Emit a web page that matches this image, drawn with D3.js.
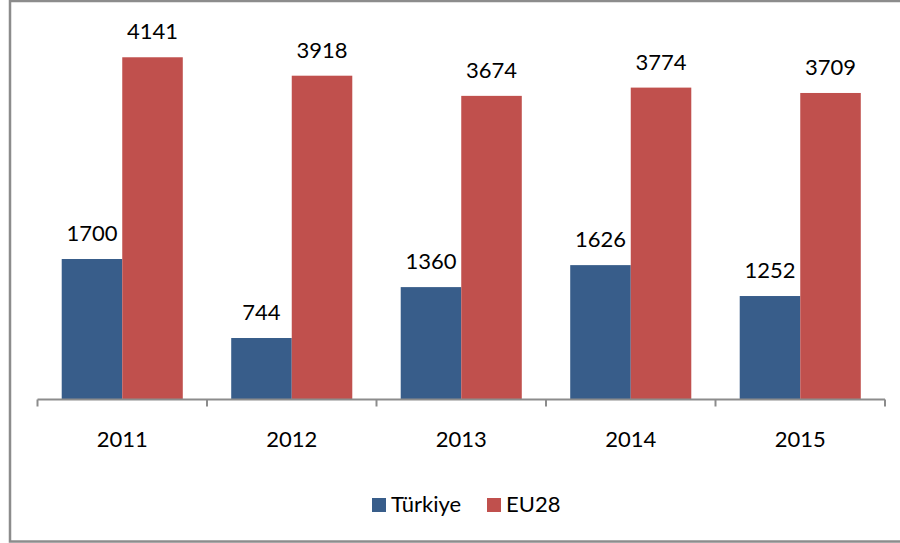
<!DOCTYPE html>
<meta charset="utf-8">
<head>
  <title>Türkiye vs EU28</title>
</head>
<style>
  body { margin: 0; background: white; }
  text {
    font-family: Lato, "Open Sans", sans-serif;
    fill: black;
  }
</style>
<body>
<script src="https://d3js.org/d3.v7.min.js"></script>
<div id="chart"></div>
<script>

var years = ["2011", "2012", "2013", "2014", "2015"];
var seriesNames = ["Türkiye", "EU28"];
var turkiye = [1700, 744, 1360, 1626, 1252];
var eu28 = [4141, 3918, 3674, 3774, 3709];
var colors = ["#385D8A", "#C0504D"];

var data = years.map(function(y, i) {
  return { year: y, values: [turkiye[i], eu28[i]] };
});

var width = 900, height = 543;

var svg = d3.select("#chart")
  .append("svg")
  .attr("width", width)
  .attr("height", height);

// outer frame
svg.append("rect")
  .attr("x", 10)
  .attr("y", 1)
  .attr("width", 900)
  .attr("height", 540.5)
  .attr("fill", "white")
  .attr("stroke", "#8c8c8c")
  .attr("stroke-width", 2.5);

var x0 = d3.scaleBand()
  .domain(years)
  .range([37.5, 885])
  .paddingInner(0)
  .paddingOuter(0);

var x1 = d3.scaleBand()
  .domain(seriesNames)
  .range([0, x0.bandwidth()])
  .paddingInner(0)
  .paddingOuter(0.4);

var y = d3.scaleLinear()
  .domain([0, 4500])
  .range([399.5, 27.6]);

var groups = svg.selectAll(null)
  .data(data)
  .enter()
  .append("g")
  .attr("transform", function(d) { return "translate(" + x0(d.year) + ",0)"; });

groups.selectAll(null)
  .data(function(d) { return d.values.map(function(v, i) { return { name: seriesNames[i], value: v, i: i }; }); })
  .enter()
  .append("rect")
  .attr("x", function(d) { return x1(d.name); })
  .attr("width", x1.bandwidth())
  .attr("y", function(d) { return y(d.value); })
  .attr("height", function(d) { return y(0) - y(d.value); })
  .attr("fill", function(d) { return colors[d.i]; });

groups.selectAll(null)
  .data(function(d) { return d.values.map(function(v, i) { return { name: seriesNames[i], value: v }; }); })
  .enter()
  .append("text")
  .attr("x", function(d) { return x1(d.name) + x1.bandwidth() / 2; })
  .attr("y", function(d) { return y(d.value) - 18; })
  .attr("text-anchor", "middle")
  .style("font-size", "22px")
  .text(function(d) { return d.value; });

// x axis
var axis = svg.append("g")
  .attr("transform", "translate(0," + y(0) + ")");

axis.append("line")
  .attr("x1", x0.range()[0])
  .attr("x2", x0.range()[1])
  .attr("stroke", "#8c8c8c")
  .attr("stroke-width", 2);

var tickPos = years.map(function(d) { return x0(d); }).concat([x0.range()[1]]);
axis.selectAll(null)
  .data(tickPos)
  .enter()
  .append("line")
  .attr("x1", function(d) { return d; })
  .attr("x2", function(d) { return d; })
  .attr("y1", 0)
  .attr("y2", 7)
  .attr("stroke", "#8c8c8c")
  .attr("stroke-width", 2);

axis.selectAll(null)
  .data(years)
  .enter()
  .append("text")
  .attr("x", function(d) { return x0(d) + x0.bandwidth() / 2; })
  .attr("y", 47)
  .attr("text-anchor", "middle")
  .style("font-size", "22px")
  .text(function(d) { return d; });

// legend
var legendX = [372, 487];
var legend = svg.selectAll(null)
  .data(seriesNames)
  .enter()
  .append("g")
  .attr("transform", function(d, i) { return "translate(" + legendX[i] + ",498)"; });

legend.append("rect")
  .attr("width", 14)
  .attr("height", 14)
  .attr("fill", function(d, i) { return colors[i]; });

legend.append("text")
  .attr("x", 19)
  .attr("y", 13.5)
  .style("font-size", "22px")
  .text(function(d) { return d; });

</script>
</body>
